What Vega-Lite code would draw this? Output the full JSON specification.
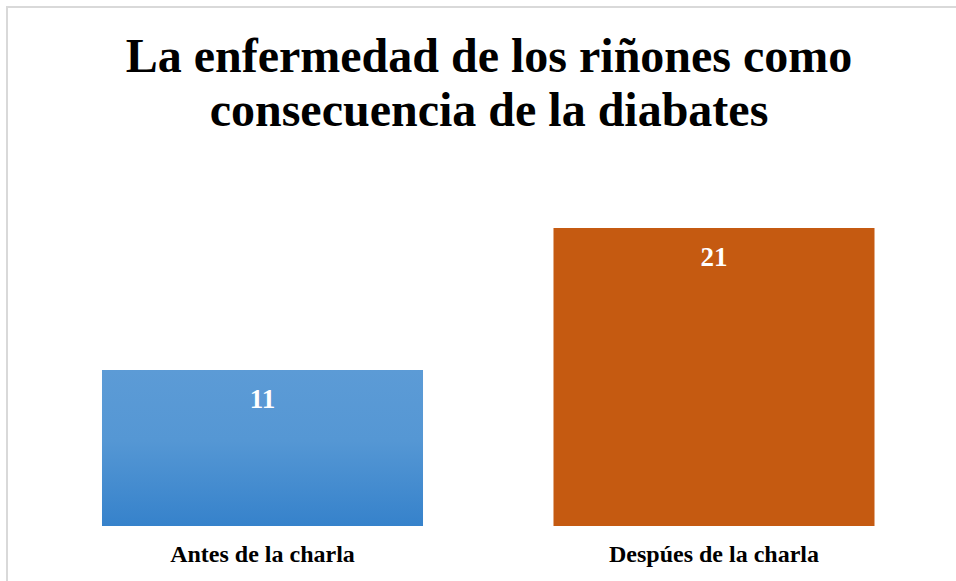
{
  "$schema": "https://vega.github.io/schema/vega-lite/v6.json",
  "width": 964,
  "height": 590,
  "padding": {"left": 7, "top": 7, "right": 0, "bottom": 0},
  "background": "white",
  "title": {
    "text": ["La enfermedad de los riñones como", "consecuencia de la diabates"],
    "font": "Liberation Serif",
    "fontSize": 48,
    "fontWeight": "bold",
    "color": "#000000",
    "anchor": "middle",
    "frame": "group",
    "lineHeight": 54,
    "baseline": "alphabetic",
    "offset": -167
  },
  "config": {"view": {"stroke": "#d9d9d9", "strokeWidth": 2}},
  "data": {
    "values": [
      {"momento": "Antes de la charla", "valor": 11},
      {"momento": "Despúes de la charla", "valor": 21}
    ]
  },
  "encoding": {
    "x": {
      "field": "momento",
      "type": "nominal",
      "sort": null,
      "scale": {"range": [29.75, 932.75], "paddingInner": 0.289, "paddingOuter": 0.1445},
      "axis": null
    },
    "y": {
      "field": "valor",
      "type": "quantitative",
      "scale": {"domain": [0, 21], "range": [519, 221], "nice": false, "zero": true},
      "axis": null
    }
  },
  "layer": [
    {
      "transform": [{"filter": "datum.momento === 'Antes de la charla'"}],
      "mark": {
        "type": "bar",
        "color": {
          "gradient": "linear", "x1": 0, "y1": 0, "x2": 0, "y2": 1,
          "stops": [
            {"offset": 0, "color": "#5c9bd6"},
            {"offset": 0.45, "color": "#5597d4"},
            {"offset": 1, "color": "#3682cb"}
          ]
        }
      }
    },
    {
      "transform": [{"filter": "datum.momento !== 'Antes de la charla'"}],
      "mark": {"type": "bar", "color": "#c55a11"}
    },
    {
      "mark": {"type": "text", "color": "white", "font": "Liberation Serif", "fontSize": 27, "fontWeight": "bold", "baseline": "alphabetic", "dy": 38},
      "encoding": {"text": {"field": "valor", "type": "quantitative"}}
    },
    {
      "mark": {"type": "text", "color": "black", "font": "Liberation Serif", "fontSize": 24, "fontWeight": "bold", "baseline": "alphabetic", "dy": 36},
      "encoding": {
        "y": {"datum": 0, "type": "quantitative"},
        "text": {"field": "momento", "type": "nominal"}
      }
    }
  ]
}
